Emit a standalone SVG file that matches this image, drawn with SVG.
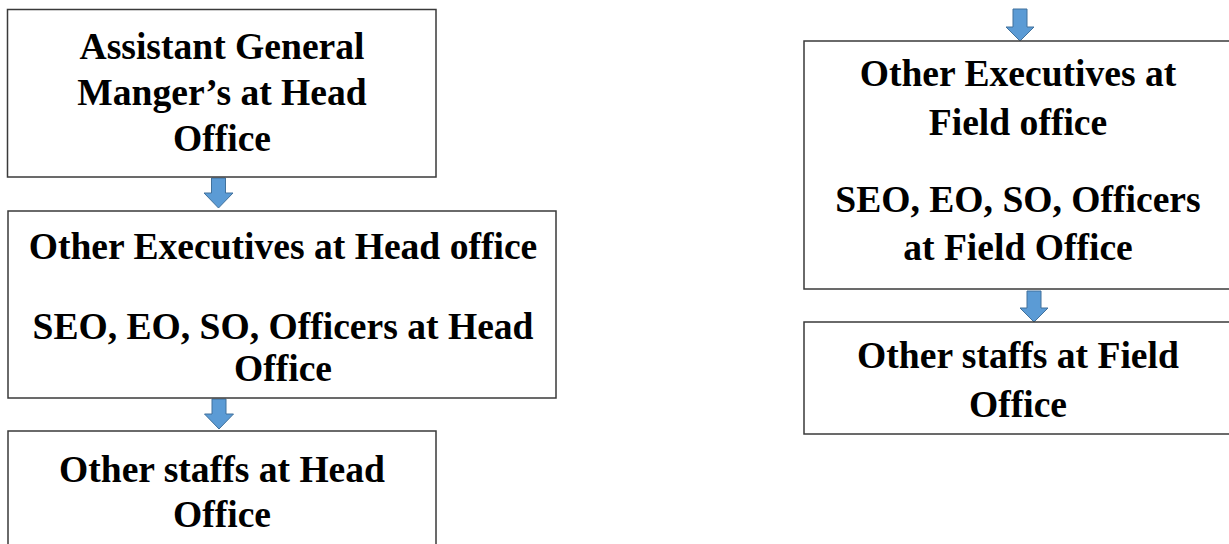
<svg xmlns="http://www.w3.org/2000/svg" width="1229" height="544" viewBox="0 0 1229 544">
<style>
.box{fill:#fff;stroke:#3a3a3a;stroke-width:1.5}
.t{font-family:"Liberation Serif","Times New Roman",serif;font-weight:bold;font-size:37.6px;fill:#000;text-anchor:middle}
.arr{fill:#5B9BD5;stroke:#41719C;stroke-width:1}
</style>
<rect width="1229" height="544" fill="#fff"/>
<g id="connectors">
<path class="arr" d="M211.5,178 H225.5 V193 H233 L218.5,208 L204,193 H211.5 Z"/>
<path class="arr" d="M212,399 H226 V414 H233.5 L219,429 L204.5,414 H212 Z"/>
<path class="arr" d="M1013,9 H1027 V27 H1034 L1020,41 L1006,27 H1013 Z"/>
<path class="arr" d="M1027,291 H1041 V308 H1048 L1034,322 L1020,308 H1027 Z"/>
</g>
<g id="agm">
<rect class="box" x="7.5" y="9.5" width="428.5" height="167.5"/>
<text class="t" x="222" y="59">Assistant General</text>
<text class="t" x="222" y="105">Manger’s at Head</text>
<text class="t" x="222" y="151">Office</text>
</g>
<g id="exec-head">
<rect class="box" x="8" y="211" width="548" height="187"/>
<text class="t" x="283" y="259">Other Executives at Head office</text>
<text class="t" x="283" y="339">SEO, EO, SO, Officers at Head</text>
<text class="t" x="283" y="381">Office</text>
</g>
<g id="staff-head">
<rect class="box" x="8" y="431" width="428" height="120"/>
<text class="t" x="222" y="482">Other staffs at Head</text>
<text class="t" x="222" y="527">Office</text>
</g>
<g id="exec-field">
<rect class="box" x="804" y="41" width="428" height="248"/>
<text class="t" x="1018" y="86">Other Executives at</text>
<text class="t" x="1018" y="135">Field office</text>
<text class="t" x="1018" y="212">SEO, EO, SO, Officers</text>
<text class="t" x="1018" y="260">at Field Office</text>
</g>
<g id="staff-field">
<rect class="box" x="804" y="322" width="428" height="112"/>
<text class="t" x="1018" y="368">Other staffs at Field</text>
<text class="t" x="1018" y="417">Office</text>
</g>
</svg>
